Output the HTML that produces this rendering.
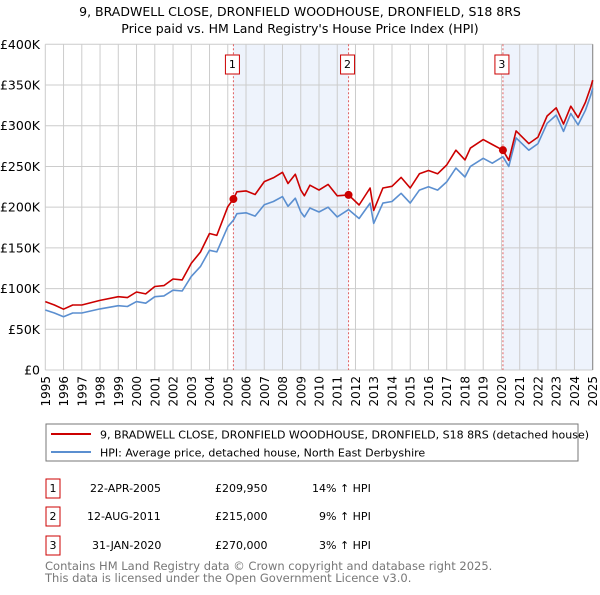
<!DOCTYPE html>
<html><head><meta charset="utf-8"><style>
body{margin:0;background:#fff;font-family:"Liberation Sans","DejaVu Sans",sans-serif;}
svg text{font-family:"DejaVu Sans","Liberation Sans",sans-serif;}
</style></head><body>
<svg id="c" width="600" height="590" viewBox="0 0 600 590" xmlns="http://www.w3.org/2000/svg">
<text x="300" y="16" text-anchor="middle" font-size="12.5" fill="#000">9, BRADWELL CLOSE, DRONFIELD WOODHOUSE, DRONFIELD, S18 8RS</text>
<text x="300" y="33" text-anchor="middle" font-size="12.5" fill="#000">Price paid vs. HM Land Registry's House Price Index (HPI)</text>
<g id="plot"></g>
<g>
<rect x="46" y="424" width="532" height="37" fill="#fff" stroke="#777" stroke-width="1"/>
<line x1="51" y1="434" x2="91" y2="434" stroke="#cc0000" stroke-width="2"/>
<text x="100" y="438.5" font-size="11">9, BRADWELL CLOSE, DRONFIELD WOODHOUSE, DRONFIELD, S18 8RS (detached house)</text>
<line x1="51" y1="452" x2="91" y2="452" stroke="#5b8fd0" stroke-width="2"/>
<text x="100" y="456.5" font-size="11">HPI: Average price, detached house, North East Derbyshire</text>
</g>
<g font-size="11">
<rect x="46" y="479" width="14" height="19" fill="#fff" stroke="#cc0000"/><text x="53" y="492" text-anchor="middle">1</text>
<text x="90" y="492">22-APR-2005</text><text x="215" y="492">£209,950</text><text x="312" y="492">14% ↑ HPI</text>
<rect x="46" y="507" width="14" height="19" fill="#fff" stroke="#cc0000"/><text x="53" y="520" text-anchor="middle">2</text>
<text x="87" y="520">12-AUG-2011</text><text x="215" y="520">£215,000</text><text x="319" y="520">9% ↑ HPI</text>
<rect x="46" y="536" width="14" height="19" fill="#fff" stroke="#cc0000"/><text x="53" y="549" text-anchor="middle">3</text>
<text x="92" y="549">31-JAN-2020</text><text x="215" y="549">£270,000</text><text x="319" y="549">3% ↑ HPI</text>
</g>
<text x="45" y="570" font-size="11.5" fill="#777">Contains HM Land Registry data © Crown copyright and database right 2025.</text>
<text x="45" y="582" font-size="11.5" fill="#777">This data is licensed under the Open Government Licence v3.0.</text>
</svg>
<script>
const years=[1995,1995.5,1996,1996.5,1997,1998,1999,1999.5,2000,2000.5,2001,2001.5,2002,2002.5,2003,2003.5,2004,2004.4,2005,2005.31,2005.5,2006,2006.5,2007,2007.5,2008,2008.3,2008.7,2009,2009.2,2009.5,2010,2010.5,2011,2011.62,2012.2,2012.8,2013,2013.5,2014,2014.5,2015,2015.5,2016,2016.5,2017,2017.5,2018,2018.3,2019,2019.5,2020.08,2020.4,2020.8,2021.5,2022,2022.5,2023,2023.4,2023.8,2024.2,2024.6,2024.9,2025];
const hpi=[73.7,70,65.5,70,70,75,79,78,84,82,90,91,98,97,115,127,147,145,176,184,192,193,189,203,207,213,201,211,194,188,199,194,200,188,197,186,205,180,205,207,217,205,221,225,221,231,248,237,250,260,254,262,250,285,270,278,303,313,293,315,301,319,338,346];
const price=[84,79.8,74.7,79.8,79.8,85.5,90,88.9,95.8,93.5,102.6,103.7,111.7,110.6,131,144.8,167.6,165.3,200.6,209.95,218.9,220,215.5,231.4,236,242.8,229,240.5,221,214,227,221,228,214,215,202.7,223.5,196,223.5,225.6,236.5,223.5,241,245,241,251.8,270,258,272.5,283,277,270,257.5,293.6,278,286,312,322,302,324,310,328.6,348,356];
const saleYears=[2005.31,2011.62,2020.08];
const salePrices=[209.95,215,270];
const saleLabels=["1","2","3"];
const yTicks=[0,50,100,150,200,250,300,350,400];
const yTickLabels=["£0","£50K","£100K","£150K","£200K","£250K","£300K","£350K","£400K"];
const xTicks=[1995,1996,1997,1998,1999,2000,2001,2002,2003,2004,2005,2006,2007,2008,2009,2010,2011,2012,2013,2014,2015,2016,2017,2018,2019,2020,2021,2022,2023,2024,2025];

const X0=45.3,X1=592.7,Y0=370,Y1=44.3;
const xs=y=>X0+(y-1995)/30*(X1-X0);
const ys=v=>Y0-v/400*(Y0-Y1);
const NS="http://www.w3.org/2000/svg";
const g=document.getElementById('plot');
function mk(t,a){const e=document.createElementNS(NS,t);for(const k in a)e.setAttribute(k,a[k]);g.appendChild(e);return e;}
// shading
let s1=mk('rect',{x:xs(saleYears[0]),y:Y1,width:xs(saleYears[1])-xs(saleYears[0]),height:Y0-Y1,fill:'#eef3fc'});


let s2=mk('rect',{x:xs(saleYears[2]),y:Y1,width:X1-xs(saleYears[2]),height:Y0-Y1,fill:'#eef3fc'});


// grid
xTicks.forEach(t=>{
 const l=mk('line',{x1:xs(t),x2:xs(t),y1:Y1,y2:Y0,stroke:'#cccccc','stroke-width':1});
 
 
 const tx=mk('text',{x:0,y:0,'font-size':12,'text-anchor':'end',transform:`translate(${xs(t)+4.5},376) rotate(-90)`});
 tx.textContent=t;
 
 
});
yTicks.forEach((t,i)=>{
 const l=mk('line',{x1:X0,x2:X1,y1:ys(t),y2:ys(t),stroke:'#cccccc','stroke-width':1});
 
 
 const tx=mk('text',{x:40,y:ys(t)+4.5,'font-size':12.5,'text-anchor':'end'});
 tx.textContent=yTickLabels[i];
 
 
});
const ax=mk('line',{x1:X1,x2:X1,y1:Y1,y2:Y0,stroke:'#888','stroke-width':1});


// sale markers lines
saleYears.forEach((sy,i)=>{
 const l=mk('line',{x1:xs(sy),x2:xs(sy),y1:Y1,y2:Y0,stroke:'#e06060','stroke-width':1,'stroke-dasharray':'2,2'});
 
 
 const r=mk('rect',{x:xs(sy)-8,y:55,width:14,height:19,fill:'#fff',stroke:'#cc0000'});
 
 
 const tx=mk('text',{x:xs(sy)-1,y:68,'font-size':11,'text-anchor':'middle'});
 tx.textContent=saleLabels[i];
 
 
});
function path(arr,col,name){
 const d=arr.map((v,i)=>(i?'L':'M')+xs(years[i]).toFixed(1)+','+ys(v).toFixed(1)).join('');
 const p=mk('path',{d:d,fill:'none',stroke:col,'stroke-width':1.6,'stroke-linejoin':'round'});
 
 
}
path(hpi,'#5b8fd0','hpi-line');
path(price,'#cc0000','property-price-line');
saleYears.forEach((sy,i)=>{
 const c=mk('circle',{cx:xs(sy),cy:ys(salePrices[i]),r:4,fill:'#cc0000'});
 
 
});
</script>
</body></html>
